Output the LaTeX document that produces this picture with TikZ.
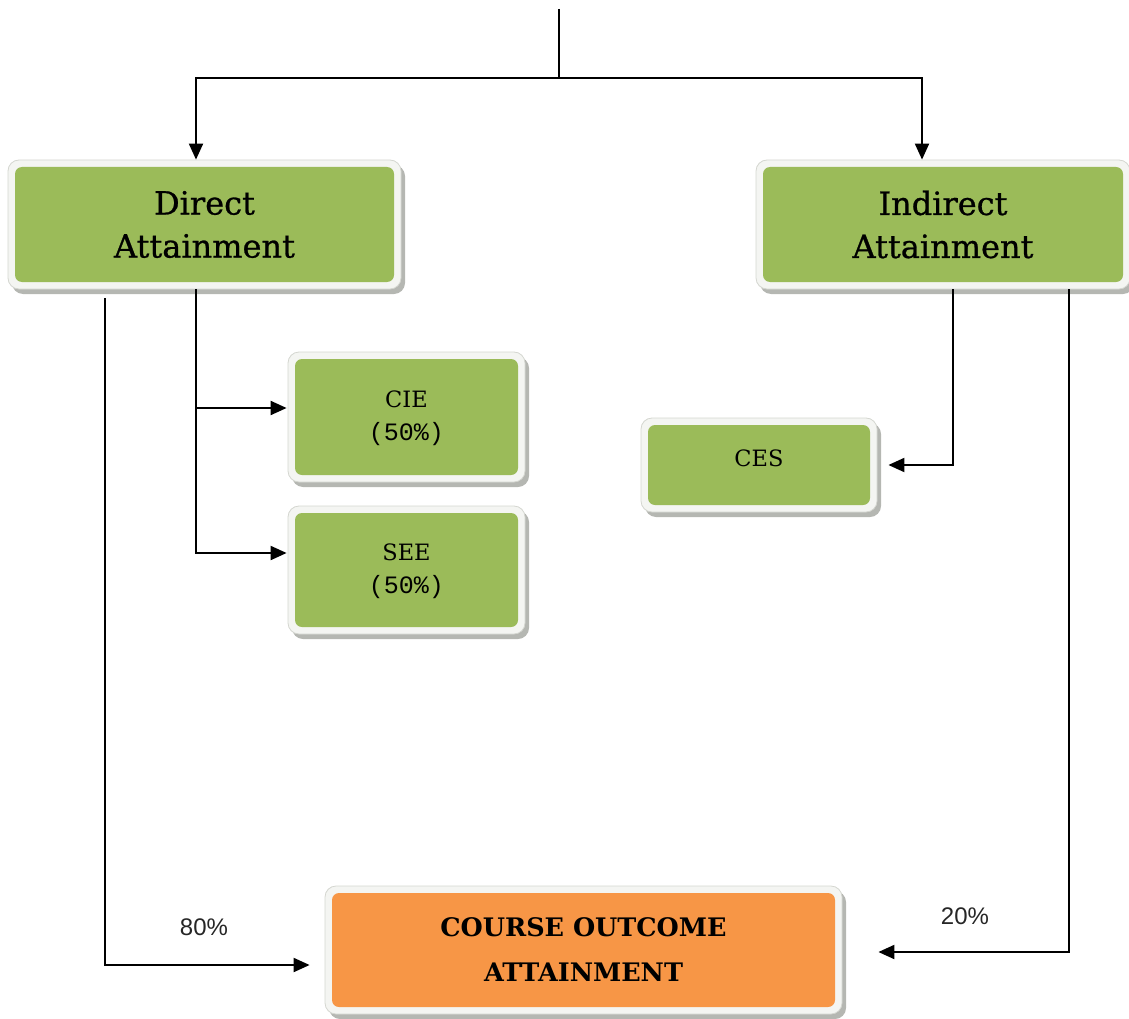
\documentclass[tikz,border=0pt]{standalone}
\usepackage{fontspec}
\setmainfont{DejaVu Serif}
\newfontfamily\cardfont{DejaVu Serif}[FakeBold=0.8]
\newfontfamily\pctfont{Liberation Sans}
\newfontfamily\numfont{Liberation Mono}
\usetikzlibrary{arrows.meta,shadows}

\definecolor{cardgreen}{HTML}{9BBB59}
\definecolor{cardorange}{HTML}{F79646}
\definecolor{framefill}{HTML}{F4F5F2}
\definecolor{frameedge}{HTML}{D4D6D0}
\definecolor{shadowgray}{HTML}{A8AAA4}

\newcommand{\twolines}[3]{\raisebox{#1}{\begin{tabular}{@{}c@{}}#2\\#3\end{tabular}}}

\tikzset{
  card/.style={
    rounded corners=11pt, fill=framefill, draw=frameedge, line width=0.8pt,
    drop shadow={shadow xshift=4pt, shadow yshift=-5pt, fill=shadowgray, opacity=0.85},
    inner sep=0pt, align=center, text=black,
    path picture={\fill[#1, rounded corners=7pt]
      ([xshift=7pt,yshift=-7pt]path picture bounding box.north west) rectangle
      ([xshift=-7pt,yshift=7pt]path picture bounding box.south east);}
  },
  bigtext/.style={font=\cardfont\fontsize{32}{43}\selectfont},
  smalltext/.style={font=\fontsize{22.5}{33}\selectfont},
  wire/.style={draw=black, line width=2pt},
  arrow/.style={wire, -{Triangle[length=16pt,width=14pt]}},
  pct/.style={font=\pctfont\fontsize{24}{28}\selectfont, text=black!85, inner sep=0pt}
}

\begin{document}
\begin{tikzpicture}[x=1pt, y=-1pt]
  \useasboundingbox (0,0) rectangle (1129,1019);

  % boxes
  \node[card=cardgreen, bigtext, minimum width=393pt, minimum height=129pt]
    (direct) at (204.5,224.5) {Direct\\Attainment};
  \node[card=cardgreen, bigtext, minimum width=374pt, minimum height=129pt]
    (indirect) at (943,224.5) {Indirect\\Attainment};
  \node[card=cardgreen, smalltext, minimum width=237pt, minimum height=130pt]
    (cie) at (406.5,417) {\twolines{7pt}{CIE}{\numfont\fontsize{25}{33}\selectfont (50\%)}};
  \node[card=cardgreen, smalltext, minimum width=237pt, minimum height=128pt]
    (see) at (406.5,570) {\twolines{5pt}{SEE}{\numfont\fontsize{25}{33}\selectfont (50\%)}};
  \node[card=cardgreen, smalltext, minimum width=236pt, minimum height=94pt]
    (ces) at (759,465) {\raisebox{13pt}{CES}};
  \node[card=cardorange, font=\bfseries\fontsize{25.5}{45}\selectfont,
        minimum width=517pt, minimum height=128pt]
    (coa) at (583.5,950) {COURSE OUTCOME\\ATTAINMENT};

  % top feed splitting into the two attainment kinds
  \coordinate (src) at (559,9);
  \coordinate (fork) at (559,78);
  \draw[wire] (src) -- (fork);
  \draw[arrow] (fork) -| ([xshift=-8.5pt]direct.north);
  \draw[arrow] (fork) -| ([xshift=-21pt]indirect.north);

  % direct attainment components
  \draw[arrow] ([xshift=-8.5pt]direct.south) |- ([xshift=-1pt,yshift=9pt]cie.west);
  \draw[arrow] ([xshift=-8.5pt]direct.south) |- ([xshift=-1pt,yshift=17pt]see.west);

  % indirect attainment component
  \draw[arrow] ([xshift=10pt]indirect.south) |- ([xshift=11pt]ces.east);

  % weighted contributions to the course outcome
  \draw[arrow] ([xshift=-99.5pt,yshift=-9pt]direct.south) |- ([xshift=-15pt,yshift=-15pt]coa.west);
  \draw[arrow] ([xshift=126pt]indirect.south) |- ([xshift=36pt,yshift=-2pt]coa.east);

  \node[pct] (p80) at (204,927) {80\%};
  \node[pct] (p20) at (965,916) {20\%};
\end{tikzpicture}
\end{document}
